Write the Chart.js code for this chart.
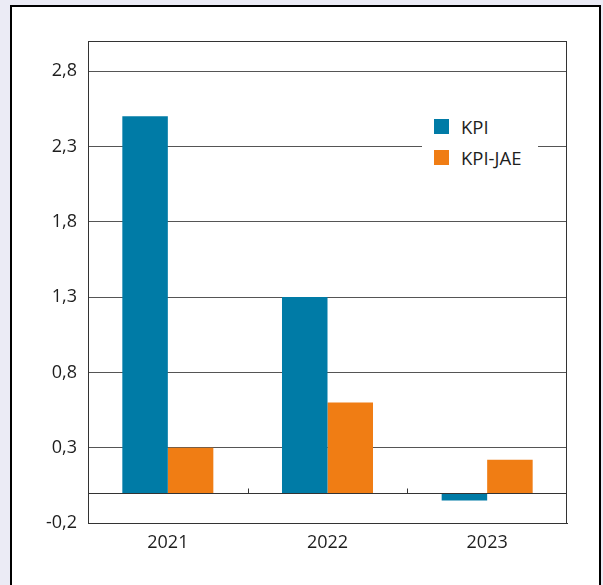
<!DOCTYPE html>
<html>
<head>
<meta charset="utf-8">
<script src="https://cdn.jsdelivr.net/npm/chart.js@4.4.1/dist/chart.umd.min.js"></script>
<style>
  html, body { margin:0; padding:0; background:#ebebf5; width:603px; height:585px; overflow:hidden; }
  #frame { position:absolute; left:10px; top:5px; width:587px; height:600px; border:2px solid #000; background:#fff; }
  #c { position:absolute; left:0; top:0; }
  #legend { position:absolute; left:422px; top:108px; width:116px; height:68px; background:#fff;
            font-family:"Open Sans", sans-serif; font-size:18.5px; color:#1e1e1e; }
  .item { position:absolute; left:12px; height:15px; display:flex; align-items:center; white-space:nowrap; }
  .sw { display:inline-block; width:15px; height:15px; margin-right:12px; flex:none; }
</style>
</head>
<body>
<div id="frame"></div>
<canvas id="c" width="603" height="585"></canvas>
<div id="legend"></div>
<script>
const categories = ['2021', '2022', '2023'];
const kpi = [2.5, 1.3, -0.05];
const kpiJae = [0.3, 0.6, 0.22];
const seriesLabels = ['KPI', 'KPI-JAE'];
const seriesColors = ['#007ba6', '#f07d14'];
const yTicks = [-0.2, 0.3, 0.8, 1.3, 1.8, 2.3, 2.8];

const FONT = '"Open Sans", sans-serif';

const framePlugin = {
  id: 'framePlugin',
  afterDatasetsDraw(chart) {
    const ctx = chart.ctx, a = chart.chartArea;
    const x = chart.scales.x, y = chart.scales.y;
    ctx.save();
    ctx.strokeStyle = '#333';
    ctx.lineWidth = 1;
    const y0 = Math.round(y.getPixelForValue(0)) + 0.5;
    ctx.beginPath();
    ctx.moveTo(a.left, Math.round(a.top) + 0.5); ctx.lineTo(a.right, Math.round(a.top) + 0.5);
    ctx.moveTo(Math.round(a.right) - 0.5, a.top); ctx.lineTo(Math.round(a.right) - 0.5, a.bottom);
    ctx.moveTo(a.left, y0); ctx.lineTo(a.right, y0);
    for (let i = 0; i < categories.length - 1; i++) {
      const bx = Math.round((x.getPixelForValue(i) + x.getPixelForValue(i + 1)) / 2) + 0.5;
      ctx.moveTo(bx, y0); ctx.lineTo(bx, y0 - 5);
    }
    ctx.stroke();
    ctx.restore();
  }
};

const chart = new Chart(document.getElementById('c'), {
  type: 'bar',
  data: {
    labels: categories,
    datasets: [
      { label: seriesLabels[0], data: kpi, backgroundColor: seriesColors[0] },
      { label: seriesLabels[1], data: kpiJae, backgroundColor: seriesColors[1] }
    ]
  },
  options: {
    responsive: false,
    animation: false,
    devicePixelRatio: 1,
    layout: { padding: { left: 0, right: 36, top: 41, bottom: 0 } },
    datasets: { bar: { categoryPercentage: 0.57, barPercentage: 1.0 } },
    plugins: { legend: { display: false }, tooltip: { enabled: false } },
    scales: {
      x: {
        grid: { display: false, drawTicks: false },
        border: { display: true, color: '#333', width: 1 },
        ticks: { color: '#1e1e1e', font: { family: FONT, size: 18 }, padding: 9 },
        afterFit(s) { s.height = 62; }
      },
      y: {
        min: -0.2, max: 3.0,
        afterBuildTicks(s) { s.ticks = yTicks.map(v => ({ value: v })); },
        grid: { color: '#555', lineWidth: 1, drawTicks: false },
        border: { display: true, color: '#333', width: 1 },
        ticks: {
          color: '#1e1e1e', font: { family: FONT, size: 18 }, padding: 11,
          callback: (v) => Number(v).toFixed(1).replace('.', ',')
        },
        afterFit(s) { s.width = 88; }
      }
    }
  },
  plugins: [framePlugin]
});

const legend = document.getElementById('legend');
chart.data.datasets.forEach((ds, i) => {
  const it = document.createElement('div');
  it.className = 'item';
  it.style.top = (11 + i * 31) + 'px';
  const sw = document.createElement('span');
  sw.className = 'sw';
  sw.style.background = ds.backgroundColor;
  it.appendChild(sw);
  it.appendChild(document.createTextNode(ds.label));
  legend.appendChild(it);
});
</script>
</body>
</html>
